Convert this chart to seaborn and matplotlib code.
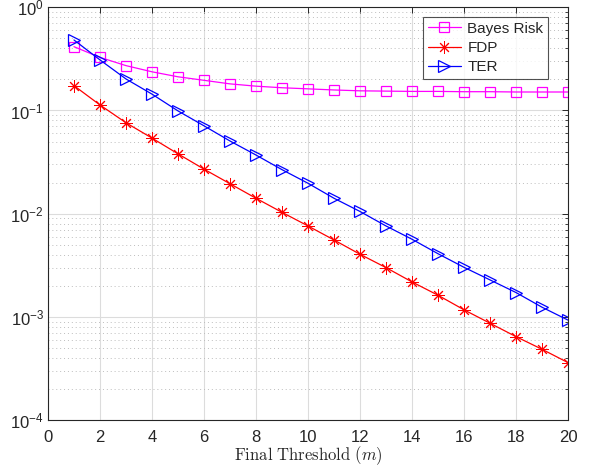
import numpy as np
import pandas as pd
import matplotlib
matplotlib.use("Agg")
import matplotlib.pyplot as plt
import seaborn as sns
from matplotlib.ticker import LogLocator, NullFormatter, MultipleLocator

threshold = list(range(1, 21))
bayes_risk = [0.415, 0.327, 0.272, 0.237, 0.212, 0.196, 0.181, 0.172, 0.166, 0.162,
              0.158, 0.155, 0.154, 0.153, 0.153, 0.152, 0.152, 0.151, 0.151, 0.151]
fdp = [0.174, 0.113, 0.076, 0.054, 0.038, 0.027, 0.0195, 0.0141, 0.0103, 0.0076,
       0.00556, 0.00404, 0.0030, 0.00218, 0.00162, 0.00117, 0.000867, 0.000643, 0.000485, 0.00036]
ter = [0.482, 0.309, 0.202, 0.144, 0.099, 0.071, 0.0506, 0.037, 0.0267, 0.0197,
       0.0141, 0.0105, 0.0076, 0.00565, 0.00409, 0.00302, 0.00228, 0.00172, 0.00124, 0.00093]

sns.set_theme(style="white")
plt.rcParams["font.family"] = ["Liberation Sans", "DejaVu Sans"]
plt.rcParams["mathtext.fontset"] = "cm"

fig = plt.figure(figsize=(5.91, 4.70), dpi=100)
ax = fig.add_axes([0.0812, 0.1064, 0.8798, 0.8781])

df = pd.DataFrame({"m": threshold, "Bayes Risk": bayes_risk, "FDP": fdp, "TER": ter})

asterisk = (8, 2, 0)
sns.lineplot(data=df, x="m", y="Bayes Risk", ax=ax, color="#FF00FF", marker="s",
             markersize=6.5, markerfacecolor="none", markeredgecolor="#FF00FF",
             markeredgewidth=0.9, linewidth=0.9, label="Bayes Risk")
sns.lineplot(data=df, x="m", y="FDP", ax=ax, color="#FF0000", marker=asterisk,
             markersize=9, markeredgecolor="#FF0000", markeredgewidth=0.7,
             linewidth=0.9, label="FDP")
sns.lineplot(data=df, x="m", y="TER", ax=ax, color="#0000FF", marker=">",
             markersize=8, markerfacecolor="none", markeredgecolor="#0000FF",
             markeredgewidth=0.9, linewidth=0.9, label="TER")

ax.set_yscale("log")
ax.set_xlim(0, 20)
ax.set_ylim(1e-4, 1)
ax.xaxis.set_major_locator(MultipleLocator(2))
ax.yaxis.set_major_locator(LogLocator(base=10, numticks=10))
ax.yaxis.set_minor_locator(LogLocator(base=10, subs=np.arange(2, 10), numticks=20))
ax.yaxis.set_minor_formatter(NullFormatter())

ax.grid(True, which="major", color="#dcdcdc", linewidth=0.8, linestyle="-")
ax.grid(True, which="minor", axis="y", color="#bdbdbd", linewidth=0.7, linestyle=(0, (1, 3)))
ax.set_axisbelow(True)

for s in ax.spines.values():
    s.set_color("#262626")
    s.set_linewidth(0.8)
ax.tick_params(which="both", direction="in", top=True, right=True, colors="#262626",
               labelsize=12, labelcolor="#262626")
ax.tick_params(which="major", length=4, width=0.7)
ax.tick_params(which="minor", length=2.5, width=0.6)
ax.tick_params(axis="x", pad=7)
ax.tick_params(axis="y", pad=3)

ax.set_xlabel(r"$\mathrm{Final\ Threshold}\ (m)$", fontsize=12, color="#262626", labelpad=0)
ax.set_ylabel("")

leg = ax.legend(loc="upper right", bbox_to_anchor=(0.9615, 0.976), fontsize=11,
                frameon=True, fancybox=False, edgecolor="#262626", handlelength=2.2,
                borderpad=0.3, labelspacing=0.35, handletextpad=0.4, borderaxespad=0.0)
leg.get_frame().set_linewidth(0.8)
leg.get_frame().set_facecolor("white")

fig.savefig("out.png", dpi=100)
